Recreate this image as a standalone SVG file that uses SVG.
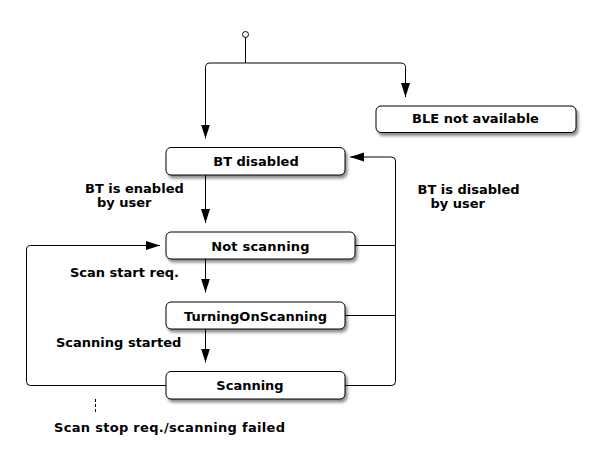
<svg xmlns="http://www.w3.org/2000/svg" width="600" height="462" viewBox="0 0 600 462">
<style>
.node rect{fill:#fff;stroke:#000;stroke-width:1;filter:url(#sh)}
.node text,.lbl{font-family:"DejaVu Sans","Verdana",sans-serif;font-weight:bold;font-size:13px;fill:#000}
.node text{text-anchor:middle}
.c{fill:none;stroke:#000;stroke-width:1}
.a{marker-end:url(#arr)}
</style>
<defs>
<filter id="sh" x="-10%" y="-30%" width="130%" height="180%">
<feDropShadow dx="2" dy="3" stdDeviation="1.6" flood-color="#000" flood-opacity="0.45"/>
</filter>
<marker id="arr" markerUnits="userSpaceOnUse" markerWidth="14" markerHeight="10" refX="14" refY="5" orient="auto">
<path d="M0,0.5 L14,5 L0,9.5 z" fill="#000"/>
</marker>
</defs>
<rect width="600" height="462" fill="#fff"/>
<g id="connectors">
<circle cx="245.5" cy="34.5" r="3" fill="#fff" stroke="#000"/>
<path class="c" d="M245.5,37.5 V63"/>
<path class="c a" d="M245.5,63 H210 Q205.5,63 205.5,67.5 V138.5"/>
<path class="c a" d="M245.5,63 H401 Q405.5,63 405.5,67.5 V97"/>
<path class="c a" d="M205.5,175 V223"/>
<path class="c a" d="M205.5,259 V292.5"/>
<path class="c a" d="M205.5,329 V362.5"/>
<path class="c a" d="M166,385.5 H30.5 Q26.5,385.5 26.5,381.5 V250 Q26.5,245.5 30.5,245.5 H160"/>
<path class="c" d="M355,245.5 H395.5"/>
<path class="c" d="M345,315.5 H395.5"/>
<path class="c a" d="M345,385.5 H391.5 Q395.5,385.5 395.5,381.5 V161 Q395.5,157 391.5,157 H350"/>
<path class="c" d="M95.5,399 V413" stroke-dasharray="3,2"/>
</g>
<g id="ble" class="node"><rect x="376" y="106" width="200" height="26.5" rx="5"/><text x="475.5" y="123">BLE not available</text></g>
<g id="btdisabled" class="node"><rect x="166" y="147.5" width="179" height="27.5" rx="5"/><text x="256" y="166">BT disabled</text></g>
<g id="notscanning" class="node"><rect x="166" y="232" width="189" height="27" rx="5"/><text x="260.5" y="250.5" letter-spacing="0.2">Not scanning</text></g>
<g id="turningon" class="node"><rect x="166" y="302" width="179" height="27" rx="5"/><text x="255.5" y="320.5">TurningOnScanning</text></g>
<g id="scanning" class="node"><rect x="166" y="371.5" width="179" height="27.5" rx="5"/><text x="250" y="389.5">Scanning</text></g>
<g id="labels">
<text class="lbl" x="85" y="193">BT is enabled</text>
<text class="lbl" x="97" y="207">by user</text>
<text class="lbl" x="417.5" y="193.5">BT is disabled</text>
<text class="lbl" x="430.5" y="207.5">by user</text>
<text class="lbl" x="70" y="277">Scan start req.</text>
<text class="lbl" x="56" y="347">Scanning started</text>
<text class="lbl" x="54" y="432" textLength="231" lengthAdjust="spacing">Scan stop req./scanning failed</text>
</g>
</svg>
